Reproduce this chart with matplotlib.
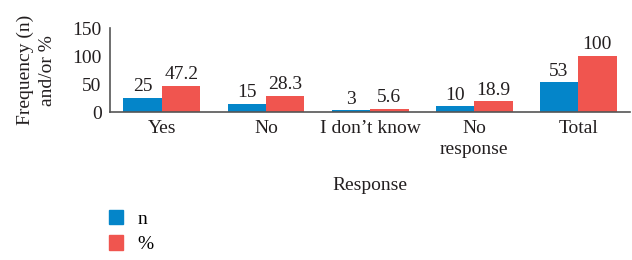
import numpy as np
import matplotlib.pyplot as plt
from matplotlib.patches import Patch

categories = ['Yes', 'No', 'I don\u2019t know', 'No\nresponse', 'Total']
n_values = [25, 15, 3, 10, 53]
pct_values = [47.2, 28.3, 5.6, 18.9, 100]
n_labels = ['25', '15', '3', '10', '53']
pct_labels = ['47.2', '28.3', '5.6', '18.9', '100']

blue = '#0485c9'
red = '#f0554f'
txt = '#231f20'

plt.rcParams['font.family'] = ['Liberation Serif', 'DejaVu Serif']

fig = plt.figure(figsize=(6.32, 2.6), dpi=100)
ax = fig.add_axes([0.174, 0.569, 0.823, 0.323])

x = np.arange(len(categories))
w = 0.37
b1 = ax.bar(x - w / 2, n_values, w, color=blue)
b2 = ax.bar(x + w / 2, pct_values, w, color=red)
ax.bar_label(b1, labels=n_labels, padding=2, fontsize=14, color=txt)
ax.bar_label(b2, labels=pct_labels, padding=2, fontsize=14, color=txt)

ax.set_xlim(-0.5, len(categories) - 0.5)
ax.set_ylim(0, 150)
ax.set_yticks([0, 50, 100, 150])
ax.set_xticks(x)
ax.set_xticklabels(categories, fontsize=14, color=txt, linespacing=1.25)
ax.tick_params(axis='y', labelsize=14, labelcolor=txt, length=0, pad=6)
ax.tick_params(axis='x', length=0, pad=6)
for s in ['top', 'right']:
    ax.spines[s].set_visible(False)
for s in ['left', 'bottom']:
    ax.spines[s].set_color('#555555')
    ax.spines[s].set_linewidth(1.2)

ax.set_ylabel('Frequency (n)\nand/or %', fontsize=14, color=txt, linespacing=1.35, labelpad=12)
ax.set_xlabel('Response', fontsize=14, color=txt, labelpad=14)

handles = [Patch(color=blue, label='n'), Patch(color=red, label='%')]
fig.legend(handles=handles, loc='upper left', bbox_to_anchor=(0.172, 0.192), frameon=False,
           fontsize=14, handlelength=0.75, handleheight=0.75, handletextpad=0.75,
           labelspacing=0.38, borderpad=0, borderaxespad=0)

fig.savefig('out.png', dpi=100)
